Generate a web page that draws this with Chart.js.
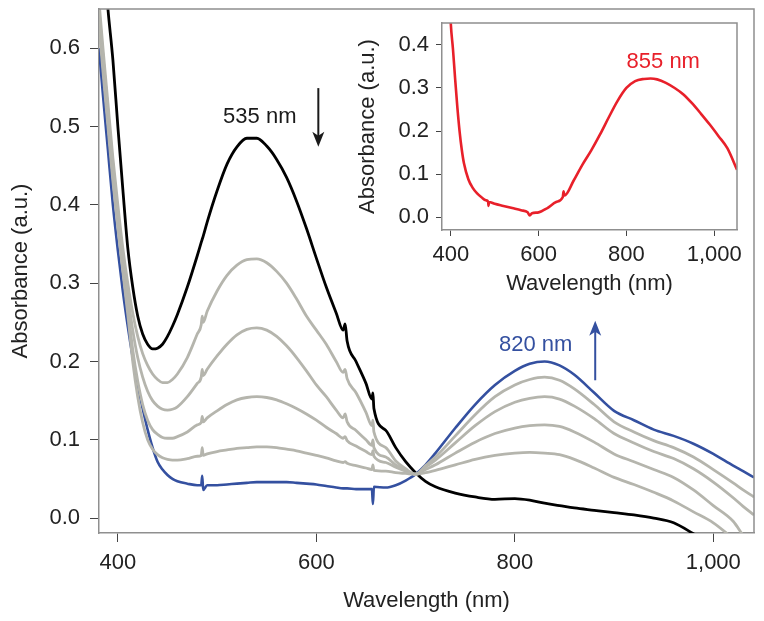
<!DOCTYPE html>
<html>
<head>
<meta charset="utf-8">
<script src="https://cdn.jsdelivr.net/npm/chart.js@4.4.1/dist/chart.umd.min.js"></script>
<style>
  html, body { margin: 0; padding: 0; background: #fff; }
  #wrap { position: relative; width: 764px; height: 621px; }
  #main { position: absolute; left: 0; top: 0; }
  #inset { position: absolute; left: 350px; top: 15px; }
</style>
</head>
<body>
<div id="wrap">
  <canvas id="main" width="764" height="621"></canvas>
  <canvas id="inset" width="400" height="290"></canvas>
</div>
<script>
// ---------- data (main chart) ----------
const wavelengths = [381, 385, 390, 395, 400, 405, 410, 415, 420, 425, 430, 435, 440, 445, 450, 455, 460, 470, 480, 484, 485, 486, 490, 500, 510, 520, 530, 540, 550, 560, 570, 580, 590, 600, 610, 620, 627, 629, 631, 640, 650, 656, 657, 658, 670, 680, 690, 700, 710, 720, 740, 760, 780, 800, 815, 830, 845, 860, 880, 900, 920, 940, 960, 980, 1000, 1020, 1030, 1041];

const absBlack = [0.80, 0.73, 0.65, 0.585, 0.50, 0.42, 0.345, 0.295, 0.258, 0.235, 0.222, 0.216, 0.217, 0.222, 0.232, 0.245, 0.26, 0.295, 0.335, 0.352, 0.356, 0.36, 0.378, 0.418, 0.452, 0.474, 0.485, 0.485, 0.475, 0.458, 0.435, 0.405, 0.37, 0.332, 0.295, 0.262, 0.24, 0.248, 0.226, 0.2, 0.172, 0.152, 0.16, 0.14, 0.112, 0.09, 0.072, 0.058, 0.047, 0.04, 0.032, 0.027, 0.024, 0.025, 0.023, 0.019, 0.016, 0.013, 0.01, 0.007, 0.004, 0.0, -0.006, -0.02, -0.035, -0.045, -0.05, -0.055];

const absGray1 = [0.66, 0.60, 0.53, 0.46, 0.40, 0.345, 0.30, 0.262, 0.232, 0.21, 0.195, 0.184, 0.177, 0.173, 0.173, 0.177, 0.184, 0.205, 0.235, 0.247, 0.258, 0.25, 0.264, 0.29, 0.31, 0.323, 0.33, 0.331, 0.326, 0.315, 0.30, 0.28, 0.258, 0.24, 0.222, 0.20, 0.186, 0.19, 0.178, 0.16, 0.135, 0.118, 0.125, 0.11, 0.09, 0.073, 0.063, 0.056, 0.058, 0.061, 0.068, 0.075, 0.08, 0.083, 0.084, 0.083, 0.081, 0.075, 0.064, 0.052, 0.043, 0.033, 0.022, 0.008, -0.006, -0.026, -0.036, -0.048];

const absGray2 = [0.65, 0.59, 0.52, 0.45, 0.39, 0.335, 0.285, 0.24, 0.205, 0.18, 0.162, 0.15, 0.143, 0.139, 0.138, 0.139, 0.142, 0.155, 0.172, 0.18, 0.19, 0.182, 0.19, 0.207, 0.222, 0.234, 0.241, 0.243, 0.24, 0.232, 0.22, 0.205, 0.188, 0.17, 0.155, 0.138, 0.128, 0.133, 0.123, 0.112, 0.10, 0.093, 0.10, 0.09, 0.078, 0.068, 0.061, 0.056, 0.062, 0.068, 0.083, 0.097, 0.108, 0.115, 0.118, 0.119, 0.117, 0.11, 0.097, 0.082, 0.072, 0.062, 0.052, 0.036, 0.016, -0.004, -0.022, -0.04];

const absGray3 = [0.64, 0.58, 0.51, 0.44, 0.38, 0.325, 0.27, 0.215, 0.175, 0.145, 0.125, 0.113, 0.107, 0.103, 0.102, 0.102, 0.104, 0.11, 0.119, 0.122, 0.13, 0.123, 0.128, 0.137, 0.145, 0.151, 0.154, 0.155, 0.154, 0.151, 0.146, 0.14, 0.133, 0.125, 0.116, 0.108, 0.102, 0.104, 0.099, 0.092, 0.085, 0.081, 0.086, 0.079, 0.071, 0.065, 0.06, 0.056, 0.065, 0.074, 0.096, 0.118, 0.136, 0.148, 0.153, 0.155, 0.152, 0.143, 0.127, 0.108, 0.096, 0.085, 0.076, 0.063, 0.046, 0.026, 0.015, 0.004];

const absGray4 = [0.63, 0.57, 0.50, 0.43, 0.37, 0.315, 0.26, 0.20, 0.155, 0.122, 0.10, 0.088, 0.081, 0.077, 0.075, 0.074, 0.074, 0.076, 0.079, 0.08, 0.09, 0.08, 0.082, 0.085, 0.087, 0.089, 0.09, 0.091, 0.091, 0.09, 0.088, 0.086, 0.083, 0.08, 0.077, 0.073, 0.071, 0.072, 0.07, 0.067, 0.064, 0.062, 0.068, 0.061, 0.06, 0.058, 0.057, 0.056, 0.067, 0.078, 0.105, 0.132, 0.155, 0.17, 0.177, 0.18, 0.176, 0.165, 0.145, 0.123, 0.11, 0.099, 0.09, 0.078, 0.062, 0.045, 0.036, 0.027];

const absBlue = [0.60, 0.54, 0.47, 0.40, 0.342, 0.29, 0.245, 0.205, 0.17, 0.14, 0.113, 0.09, 0.072, 0.062, 0.055, 0.05, 0.047, 0.044, 0.042, 0.042, 0.054, 0.036, 0.042, 0.042, 0.043, 0.044, 0.045, 0.046, 0.046, 0.046, 0.046, 0.045, 0.044, 0.043, 0.041, 0.039, 0.038, 0.038, 0.038, 0.037, 0.037, 0.037, 0.018, 0.04, 0.039, 0.042, 0.048, 0.056, 0.068, 0.083, 0.115, 0.145, 0.17, 0.188, 0.197, 0.20, 0.195, 0.183, 0.16, 0.137, 0.125, 0.113, 0.105, 0.095, 0.082, 0.067, 0.06, 0.052];

const xTicksMain = [400, 600, 800, 1000];
const yTicksMain = [0.0, 0.1, 0.2, 0.3, 0.4, 0.5, 0.6];

// ---------- data (inset) ----------
const insetWavelengths = [398, 400, 405, 410, 415, 420, 425, 430, 440, 450, 460, 470, 480, 485, 486, 487, 500, 520, 540, 560, 575, 580, 585, 600, 620, 640, 655, 657, 659, 680, 700, 720, 740, 760, 780, 800, 820, 840, 855, 870, 890, 910, 930, 950, 970, 990, 1010, 1030, 1052];
const insetAbs = [0.50, 0.45, 0.39, 0.32, 0.255, 0.20, 0.157, 0.125, 0.088, 0.068, 0.055, 0.046, 0.039, 0.036, 0.026, 0.035, 0.031, 0.026, 0.021, 0.016, 0.011, 0.004, 0.009, 0.011, 0.021, 0.035, 0.046, 0.06, 0.05, 0.085, 0.122, 0.155, 0.192, 0.232, 0.27, 0.30, 0.316, 0.321, 0.322, 0.32, 0.312, 0.30, 0.285, 0.264, 0.24, 0.215, 0.188, 0.16, 0.11];
const yTicksInset = [0.0, 0.1, 0.2, 0.3, 0.4];

const annotations = [
  { text: '535 nm', color: '#1a1a1a', x: 543, y: 0.512 },
  { text: '820 nm', color: '#3450a0', x: 821, y: 0.221 }
];
const arrows = [
  { x: 602, from: 0.549, to: 0.474, color: '#1a1a1a' },
  { x: 881, from: 0.176, to: 0.252, color: '#3450a0' }
];
const insetLabel = { text: '855 nm', color: '#e8202a', x: 884, y: 0.36 };

// ---------- helpers ----------
const FONT = "'Liberation Sans', Arial, Helvetica, sans-serif";
const GRAY = '#b5b5ad';
const toPts = (xs, ys) => xs.map((x, i) => ({ x: x, y: ys[i] }));

const framePlugin = {
  id: 'frame',
  afterDraw(chart) {
    const { ctx, chartArea: a } = chart;
    ctx.save();
    ctx.strokeStyle = '#8f8f8f';
    ctx.lineWidth = 1.5;
    ctx.beginPath();
    ctx.moveTo(a.left, a.top);
    ctx.lineTo(a.right, a.top);
    ctx.lineTo(a.right, a.bottom);
    ctx.stroke();
    ctx.restore();
  }
};

const annotPlugin = {
  id: 'annot',
  afterDatasetsDraw(chart, args, opts) {
    const { ctx } = chart;
    const xs = chart.scales.x, ys = chart.scales.y;
    ctx.save();
    ctx.font = '22px ' + FONT;
    ctx.textAlign = 'center';
    ctx.textBaseline = 'middle';
    (opts.labels || []).forEach(l => {
      ctx.fillStyle = l.color;
      ctx.fillText(l.text, xs.getPixelForValue(l.x), ys.getPixelForValue(l.y));
    });
    (opts.arrows || []).forEach(ar => {
      const x = xs.getPixelForValue(ar.x);
      const y0 = ys.getPixelForValue(ar.from);
      const y1 = ys.getPixelForValue(ar.to);
      const dir = y1 > y0 ? 1 : -1;
      ctx.strokeStyle = ar.color;
      ctx.fillStyle = ar.color;
      ctx.lineWidth = 2;
      ctx.beginPath();
      ctx.moveTo(x, y0);
      ctx.lineTo(x, y1 - dir * 10);
      ctx.stroke();
      ctx.beginPath();
      ctx.moveTo(x, y1);
      ctx.lineTo(x - 6, y1 - dir * 15);
      ctx.lineTo(x, y1 - dir * 11);
      ctx.lineTo(x + 6, y1 - dir * 15);
      ctx.closePath();
      ctx.fill();
    });
    ctx.restore();
  }
};

function ds(data, color, w) {
  return {
    data: data,
    borderColor: color,
    borderWidth: w,
    pointRadius: 0,
    fill: false,
    cubicInterpolationMode: 'monotone'
  };
}

Chart.defaults.font.family = FONT;
Chart.defaults.color = '#222';

function fitX(h) { return s => { s.height = h; s.paddingLeft = 0; s.paddingRight = 0; }; }
function fitY(w) { return s => { s.width = w; s.paddingTop = 0; s.paddingBottom = 0; }; }

// ---------- main chart ----------
new Chart(document.getElementById('main'), {
  type: 'line',
  data: {
    datasets: [
      ds(toPts(wavelengths, absGray1), GRAY, 2.8),
      ds(toPts(wavelengths, absGray2), GRAY, 2.8),
      ds(toPts(wavelengths, absGray3), GRAY, 2.8),
      ds(toPts(wavelengths, absGray4), GRAY, 2.8),
      ds(toPts(wavelengths, absBlue), '#3450a0', 2.6),
      ds(toPts(wavelengths, absBlack), '#000000', 2.8)
    ]
  },
  options: {
    responsive: false,
    animation: false,
    layout: { padding: { left: 0, top: 9, right: 10, bottom: 0 } },
    plugins: {
      legend: { display: false },
      tooltip: { enabled: false },
      annot: { labels: annotations, arrows: arrows }
    },
    scales: {
      x: {
        type: 'linear',
        min: 381, max: 1041,
        afterFit: fitX(88),
        afterBuildTicks(s) { s.ticks = xTicksMain.map(v => ({ value: v })); },
        grid: { drawOnChartArea: false, drawTicks: true, tickLength: 9, color: '#444', lineWidth: 1 },
        border: { display: true, color: '#8f8f8f', width: 1.5 },
        ticks: {
          padding: 8,
          maxRotation: 0,
          font: { size: 22 },
          color: '#222',
          callback: v => v.toLocaleString('en-US')
        },
        title: { display: true, text: 'Wavelength (nm)', font: { size: 22 }, color: '#222', padding: { top: 0, bottom: 7 } }
      },
      y: {
        type: 'linear',
        min: -0.019, max: 0.65,
        afterFit: fitY(99),
        afterBuildTicks(s) { s.ticks = yTicksMain.map(v => ({ value: v })); },
        grid: { drawOnChartArea: false, drawTicks: true, tickLength: 9, color: '#444', lineWidth: 1 },
        border: { display: true, color: '#8f8f8f', width: 1.5 },
        ticks: {
          padding: 10,
          font: { size: 22 },
          color: '#222',
          callback: v => Number(v).toFixed(1)
        },
        title: { display: true, text: 'Absorbance (a.u.)', font: { size: 22 }, color: '#222', padding: { top: 8, bottom: 0 } }
      }
    }
  },
  plugins: [framePlugin, annotPlugin]
});

// ---------- inset chart ----------
new Chart(document.getElementById('inset'), {
  type: 'line',
  data: {
    datasets: [ ds(toPts(insetWavelengths, insetAbs), '#e8202a', 2.6) ]
  },
  options: {
    responsive: false,
    animation: false,
    layout: { padding: { left: 0, top: 8, right: 13, bottom: 0 } },
    plugins: {
      legend: { display: false },
      tooltip: { enabled: false },
      annot: { labels: [insetLabel], arrows: [] }
    },
    scales: {
      x: {
        type: 'linear',
        min: 380, max: 1052,
        afterFit: fitX(75),
        afterBuildTicks(s) { s.ticks = xTicksMain.map(v => ({ value: v })); },
        grid: { drawOnChartArea: false, drawTicks: true, tickLength: 6, color: '#444', lineWidth: 1 },
        border: { display: true, color: '#8f8f8f', width: 1.5 },
        ticks: {
          padding: 6,
          maxRotation: 0,
          font: { size: 22 },
          color: '#222',
          callback: v => v.toLocaleString('en-US')
        },
        title: { display: true, text: 'Wavelength (nm)', font: { size: 22 }, color: '#222', padding: { top: 0, bottom: 8 } }
      },
      y: {
        type: 'linear',
        min: -0.03, max: 0.451,
        afterFit: fitY(92),
        afterBuildTicks(s) { s.ticks = yTicksInset.map(v => ({ value: v })); },
        grid: { drawOnChartArea: false, drawTicks: true, tickLength: 6, color: '#444', lineWidth: 1 },
        border: { display: true, color: '#8f8f8f', width: 1.5 },
        ticks: {
          padding: 7,
          font: { size: 22 },
          color: '#222',
          callback: v => Number(v).toFixed(1)
        },
        title: { display: true, text: 'Absorbance (a.u.)', font: { size: 22 }, color: '#222', padding: { top: 5, bottom: 0 } }
      }
    }
  },
  plugins: [framePlugin, annotPlugin]
});
</script>
</body>
</html>
